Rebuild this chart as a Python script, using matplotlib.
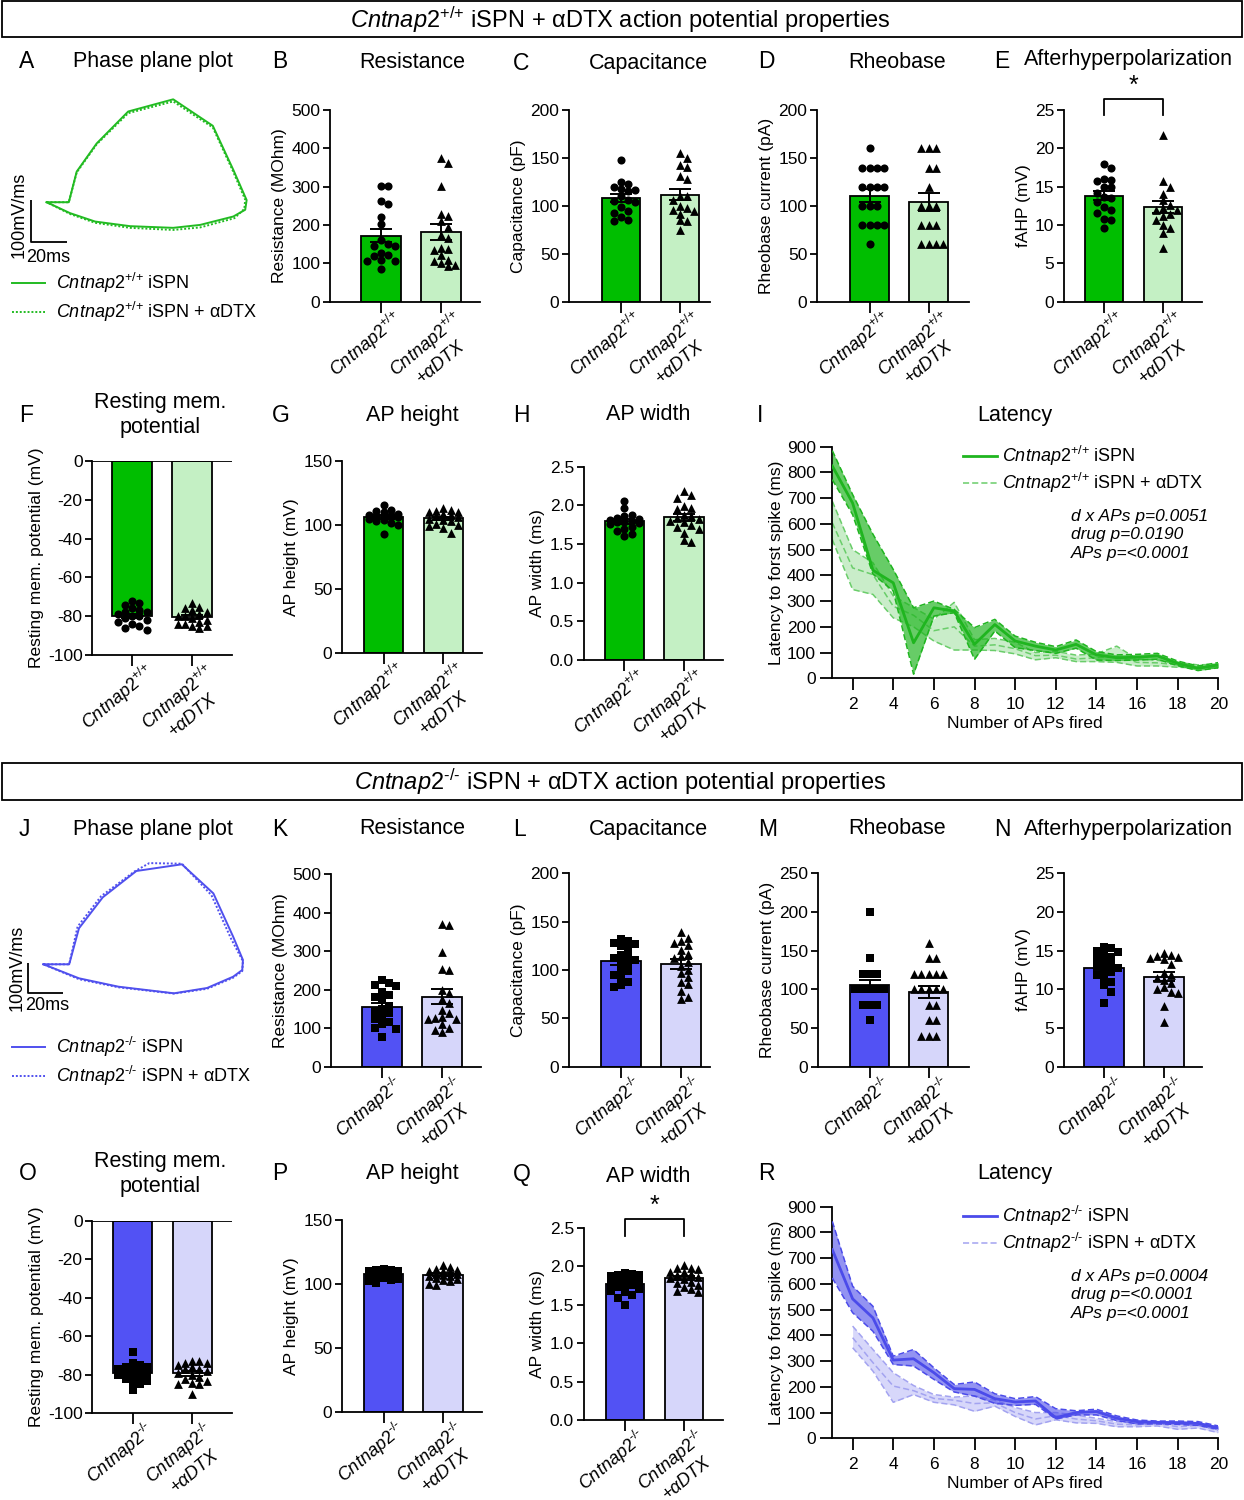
import numpy as np
import matplotlib
matplotlib.use("Agg")
import matplotlib.pyplot as plt
from matplotlib.lines import Line2D
from matplotlib.patches import Rectangle
from matplotlib.transforms import ScaledTranslation

plt.rcParams["font.family"] = ["Liberation Sans", "DejaVu Sans"]
plt.rcParams["mathtext.fontset"] = "custom"
plt.rcParams["mathtext.rm"] = "Liberation Sans"
plt.rcParams["mathtext.it"] = "Liberation Sans:italic"
plt.rcParams["mathtext.bf"] = "Liberation Sans:bold"
plt.rcParams["mathtext.sf"] = "Liberation Sans"
plt.rcParams["axes.unicode_minus"] = False

# ---------------- data ----------------
# Cntnap2 +/+  (control / + aDTX)
res_wt = [303, 303, 263, 256, 222, 203, 160, 150, 146, 145, 126, 122, 120, 108, 107, 106, 85]
res_wt_dtx = [374, 363, 303, 230, 223, 210, 196, 175, 165, 140, 138, 135, 122, 110, 105, 100, 96, 92]
cap_wt = [148, 120, 118, 125, 123, 115, 117, 105, 110, 106, 104, 99, 95, 93, 88, 85, 84]
cap_wt_dtx = [155, 150, 143, 141, 131, 128, 110, 106, 100, 110, 98, 95, 92, 96, 85, 84, 75]
rheo_wt = [160, 140, 140, 140, 140, 120, 120, 120, 120, 100, 100, 100, 80, 80, 80, 80, 60]
rheo_wt_dtx = [160, 160, 160, 140, 140, 120, 100, 100, 100, 80, 80, 80, 60, 60, 60, 60]
fahp_wt = [17.9, 17.5, 16.0, 15.9, 15.8, 15.0, 14.9, 14.2, 13.7, 13.5, 13.0, 12.4, 12.0, 11.6, 10.8, 10.7, 9.6]
fahp_wt_dtx = [21.7, 15.8, 15.0, 14.1, 13.2, 12.6, 12.2, 12.0, 11.9, 11.5, 11.2, 10.7, 10.0, 9.6, 9.0, 7.0]
rmp_wt = [-72, -73, -74, -76, -77, -78, -78, -79, -80, -80, -81, -82, -83, -84, -85, -86, -87]
rmp_wt_dtx = [-73, -75, -76, -77, -78, -79, -80, -80, -81, -82, -83, -84, -84, -85, -85, -86]
aph_wt = [116, 112, 111, 110, 109, 108, 108, 107, 107, 106, 106, 105, 104, 103, 102, 100, 93]
aph_wt_dtx = [113, 112, 111, 110, 110, 109, 108, 107, 106, 105, 104, 103, 101, 100, 99, 98, 94]
apw_wt = [2.06, 1.96, 1.88, 1.86, 1.84, 1.82, 1.81, 1.80, 1.79, 1.78, 1.77, 1.76, 1.72, 1.70, 1.67, 1.63, 1.61]
apw_wt_dtx = [2.18, 2.14, 2.10, 1.99, 1.96, 1.95, 1.88, 1.86, 1.84, 1.82, 1.80, 1.78, 1.75, 1.72, 1.70, 1.64, 1.55, 1.53]

# Cntnap2 -/-  (control / + aDTX)
res_ko = [225, 218, 213, 210, 195, 187, 180, 172, 158, 150, 145, 140, 132, 125, 115, 112, 100, 98, 78]
res_ko_dtx = [370, 368, 298, 253, 252, 200, 190, 175, 165, 148, 140, 128, 126, 125, 124, 110, 100, 95, 90]
cap_ko = [132, 130, 128, 127, 125, 122, 116, 114, 112, 110, 108, 106, 100, 99, 95, 92, 88, 85, 82]
cap_ko_dtx = [139, 133, 130, 128, 126, 121, 117, 114, 112, 108, 104, 100, 97, 93, 88, 86, 78, 72, 70]
rheo_ko = [200, 140, 120, 120, 120, 100, 100, 100, 100, 100, 100, 100, 100, 100, 80, 80, 80, 60]
rheo_ko_dtx = [160, 140, 140, 120, 120, 120, 120, 120, 100, 100, 100, 100, 100, 80, 80, 60, 60, 40, 40, 40]
fahp_ko = [15.5, 15.3, 15.0, 14.8, 14.5, 14.2, 13.9, 13.5, 13.2, 13.0, 12.8, 12.5, 12.2, 11.8, 11.5, 11.0, 10.5, 9.7, 8.2]
fahp_ko_dtx = [14.7, 14.4, 14.3, 14.2, 14.0, 13.9, 13.3, 12.1, 11.8, 11.5, 11.2, 10.8, 10.3, 10.0, 9.7, 9.5, 7.8, 5.8]
rmp_ko = [-68, -74, -75, -76, -76, -77, -77, -78, -78, -79, -80, -80, -81, -82, -83, -84, -85, -88]
rmp_ko_dtx = [-73, -73, -74, -74, -75, -76, -77, -77, -78, -79, -80, -81, -82, -83, -84, -85, -85, -90]
aph_ko = [112, 111, 111, 110, 110, 110, 109, 109, 108, 108, 107, 107, 106, 105, 104, 103, 102, 101]
aph_ko_dtx = [115, 113, 112, 111, 110, 110, 109, 108, 108, 107, 106, 106, 105, 104, 103, 102, 100, 99]
apw_ko = [1.91, 1.90, 1.89, 1.88, 1.87, 1.86, 1.84, 1.82, 1.80, 1.78, 1.76, 1.75, 1.73, 1.70, 1.68, 1.66, 1.62, 1.58, 1.50]
apw_ko_dtx = [2.01, 1.98, 1.97, 1.96, 1.93, 1.92, 1.90, 1.88, 1.86, 1.85, 1.83, 1.80, 1.78, 1.76, 1.73, 1.70, 1.68, 1.66]

# latency to first spike (mean, lower and upper SEM edge)
aps = [1, 2, 3, 4, 5, 6, 7, 8, 9, 10, 11, 12, 13, 14, 15, 16, 17, 18, 19, 20]
lat_wt = [825, 681, 420, 371, 138, 274, 261, 132, 209, 145, 125, 110, 132, 91, 80, 82, 87, 58, 39, 52]
lat_wt_lo = [772, 636, 405, 339, 16, 242, 255, 74, 184, 119, 108, 97, 117, 71, 69, 71, 74, 49, 30, 41]
lat_wt_hi = [885, 714, 560, 423, 274, 300, 268, 197, 229, 164, 140, 123, 149, 104, 91, 93, 97, 67, 48, 61]
lat_wt_dtx = [604, 429, 403, 280, 245, 185, 200, 125, 130, 115, 88, 90, 75, 80, 85, 62, 60, 52, 45, 47]
lat_wt_dtx_lo = [539, 345, 326, 235, 200, 145, 110, 110, 108, 95, 72, 80, 65, 65, 62, 48, 48, 43, 40, 40]
lat_wt_dtx_hi = [688, 500, 449, 320, 275, 230, 295, 150, 155, 140, 100, 105, 90, 95, 125, 75, 70, 62, 52, 55]

lat_ko = [733, 542, 468, 304, 309, 255, 193, 190, 154, 141, 145, 80, 100, 104, 78, 65, 62, 61, 58, 41]
lat_ko_lo = [623, 488, 416, 287, 281, 229, 180, 164, 136, 128, 132, 75, 91, 91, 69, 56, 56, 54, 50, 35]
lat_ko_hi = [843, 591, 513, 319, 345, 274, 209, 219, 173, 154, 162, 115, 107, 113, 87, 71, 67, 67, 65, 48]
aps_ko_dtx = [2, 3, 4, 5, 6, 7, 8, 9, 10, 11, 12, 13, 14, 15, 16, 17, 18, 19, 20]
lat_ko_dtx = [391, 294, 203, 185, 155, 148, 135, 138, 100, 75, 88, 75, 68, 55, 52, 57, 45, 50, 30]
lat_ko_dtx_lo = [352, 261, 140, 170, 140, 130, 105, 125, 85, 52, 72, 60, 58, 45, 45, 48, 35, 40, 22]
lat_ko_dtx_hi = [436, 345, 255, 205, 170, 160, 165, 148, 120, 100, 100, 90, 78, 65, 58, 65, 58, 58, 40]

# phase plane traces (V axis in scale-bar units, dV/dt in mV/ms)
pp_wt_v = [8.7, 21, 25.4, 36.5, 54, 79, 101, 112.4, 119.8, 119, 112.4, 94, 79, 55, 35.6, 21.7, 8.7]
pp_wt_dv = [94, 94, 167, 234, 310, 339, 276, 171, 99, 76, 60, 40, 33, 37, 48, 68, 94]
pp_wt_dtx_v = [8.7, 21, 25.4, 36.5, 54, 79, 101, 112, 119, 118.5, 113, 94, 79, 55, 35.6, 21.7, 8.7]
pp_wt_dtx_dv = [94, 94, 165, 232, 306, 334, 272, 170, 100, 78, 56, 34, 28, 33, 45, 66, 94]
pp_ko_v = [9.0, 23.7, 29.3, 42.9, 62.1, 88.1, 106.1, 117.4, 123, 122.6, 117.4, 102.5, 83.6, 51.9, 29.3, 9.0]
pp_ko_dv = [94.7, 94.7, 214.7, 318, 405.7, 428, 331, 186.7, 109, 75.7, 53.3, 15.7, -2, 20, 48, 94.7]
pp_ko_dtx_v = [9.0, 23.7, 28.5, 42, 61, 69.5, 88.1, 105, 116.2, 123, 122.6, 117.4, 102.5, 83.6, 51.9, 29.3, 9.0]
pp_ko_dtx_dv = [94.7, 94.7, 220, 322, 404, 432, 430, 325, 180, 105, 72, 50, 13, -3, 18, 45, 94.7]

WT = r"$\mathit{Cntnap2}^{\text{+/+}}$"
KO = r"$\mathit{Cntnap2}^{\text{-/-}}$"

GREEN = "#00BE00"
GREEN_L = "#C4F0C4"
BLUE = "#5252F4"
BLUE_L = "#D6D6FA"

W, H = 1244, 1500
fig = plt.figure(figsize=(W / 100, H / 100), dpi=100)


def add_ax(x0, x1, y0, y1):
    return fig.add_axes([x0 / W, 1 - y1 / H, (x1 - x0) / W, (y1 - y0) / H])


def ftext(x, y, s, **kw):
    fig.text(x / W, 1 - y / H, s, **kw)


def fline(xs, ys, **kw):
    fig.add_artist(Line2D([x / W for x in xs], [1 - y / H for y in ys], **kw))


def swarm(vals, px_x, px_y, d=7.2, max_off=19):
    # deterministic column scatter, kept inside the bar width
    cands = [0.0]
    k = 1
    while k * d <= max_off:
        cands += [k * d, -k * d]
        k += 1
    offs = np.zeros(len(vals))
    placed = []
    for i in np.argsort(-np.asarray(vals)):
        yp = vals[i] * px_y
        best, best_gap = 0.0, -1
        for off in cands:
            gap = min([np.hypot(off - a, yp - b) for a, b in placed] or [1e9])
            if gap >= 0.92 * d:
                best = off
                break
            if gap > best_gap:
                best, best_gap = off, gap
        placed.append((best, yp))
        offs[i] = best / px_x
    return offs


def style_axis(ax):
    for s in ("top", "right"):
        ax.spines[s].set_visible(False)
    for s in ("left", "bottom"):
        ax.spines[s].set_linewidth(1.3)
    ax.tick_params(width=1.3, length=7, labelsize=12.5, colors="black")


def bar_panel(box, bars, ylim, yticks, ylabel, groups, colors, markers, geno,
              fmt="{:.0f}", sig=None):
    x_axis, x_end, y_top, y_bot = box
    b0, b1 = bars
    sp = b1 - b0
    ax = add_ax(x_axis, x_end, y_top, y_bot)
    ax.set_xlim((x_axis - b0) / sp, 1 + (x_end - b1) / sp)
    ax.set_ylim(*ylim)
    px_y = (y_bot - y_top) / (ylim[1] - ylim[0])
    sizes = {"o": 34, "^": 40, "s": 30}
    for i, (vals, col, mk) in enumerate(zip(groups, colors, markers)):
        vals = np.asarray(vals, float)
        m = vals.mean()
        sem = vals.std(ddof=1) / np.sqrt(len(vals))
        ax.bar(i, m, width=0.66, color=col, edgecolor="black", linewidth=1.3, zorder=1)
        ax.scatter(i + swarm(vals, sp, px_y), vals, marker=mk, s=sizes[mk],
                   color="black", linewidths=0, zorder=3, clip_on=False)
        ax.errorbar(i, m, yerr=sem, fmt="none", ecolor="black", elinewidth=1.4,
                    capsize=8, capthick=1.4, zorder=4)
    style_axis(ax)
    ax.tick_params(axis="y", length=5, pad=2)
    ax.tick_params(axis="x", length=8)
    if ylim[1] <= 0:
        ax.axhline(0, color="black", lw=1.3, zorder=2)
    ax.set_yticks(yticks)
    ax.set_yticklabels([fmt.format(t) for t in yticks])
    ax.set_ylabel(ylabel, fontsize=12.5, labelpad=3)
    ax.set_xticks([0, 1])
    ax.set_xticklabels([geno, geno + "\n+αDTX"], rotation=40, ha="right", va="top",
                       rotation_mode="anchor", fontsize=13, style="italic",
                       multialignment="center")
    # nudge the slanted labels the way the original sits them
    shift = ScaledTranslation(0.11, 0.11, fig.dpi_scale_trans)
    for lab in ax.get_xticklabels():
        lab.set_transform(lab.get_transform() + shift)
    if sig is not None:
        lo, hi, star = sig
        ax.plot([0, 0, 1, 1], [lo, hi, hi, lo], color="black", lw=1.3, clip_on=False)
        ax.text(0.5, star, "*", ha="center", va="center", fontsize=18)
    return ax


def latency_panel(y_top, y_bot, ctrl, drug, col, col_l, alpha_d, alpha_l, geno, stats,
                  leg_y):
    ax = add_ax(832.3, 1218.3, y_top, y_bot)
    ax.set_xlim(1, 20)
    ax.set_ylim(0, 900)
    x, m, lo, hi = drug
    ax.fill_between(x, lo, hi, color=col, alpha=alpha_l, lw=0, zorder=1)
    for arr in (lo, hi, m):
        ax.plot(x, arr, ls=(0, (4, 2)), color=col_l, lw=1.1, zorder=2)
    x, m, lo, hi = ctrl
    ax.fill_between(x, lo, hi, color=col, alpha=alpha_d, lw=0, zorder=3)
    for arr in (lo, hi):
        ax.plot(x, arr, ls=(0, (4, 2)), color=col, lw=1.1, zorder=4)
    ax.plot(x, m, color=col, lw=2.0, zorder=5)
    style_axis(ax)
    ax.tick_params(length=8.5)
    ax.tick_params(axis="x", pad=5)
    ax.set_xticks(range(2, 21, 2))
    ax.set_yticks(range(0, 901, 100))
    ax.set_ylabel("Latency to forst spike (ms)", fontsize=12.5, labelpad=2)
    ax.set_xlabel("Number of APs fired", fontsize=12.5, labelpad=3)
    # legend
    fline([963, 997], [leg_y, leg_y], color=col, lw=2.0)
    fline([963, 997], [leg_y + 27, leg_y + 27], color=col_l, lw=1.1, ls=(0, (4, 2)))
    ftext(1002, leg_y, geno + " iSPN", fontsize=13, va="center")
    ftext(1002, leg_y + 27, geno + " iSPN + αDTX", fontsize=13, va="center")
    for k, s in enumerate(stats):
        ftext(1071, leg_y + 60 + 18.7 * k, s, fontsize=12.5, style="italic", va="center")


def phase_panel(box, origin, scale, traces, col, geno, leg_y, lab_pos):
    x0, x1, y0, y1 = box
    ox, oy = origin
    sx, sy = scale
    ax = add_ax(x0, x1, y0, y1)
    ax.set_xlim((x0 - ox) / sx, (x1 - ox) / sx)
    ax.set_ylim((oy - y1) / sy, (oy - y0) / sy)
    ax.axis("off")
    (v1, d1), (v2, d2) = traces
    ax.plot(v1, d1, color=col, lw=1.4)
    ax.plot(v2, d2, color=col, lw=1.4, ls=(0, (1, 1)))
    ax.plot([0, 0, 20], [100, 0, 0], color="black", lw=1.3, solid_capstyle="butt")
    (vx, vy), (hx, hy) = lab_pos
    ftext(vx, vy, "100mV/ms", rotation=90, fontsize=13, ha="center", va="center")
    ftext(hx, hy, "20ms", fontsize=13, ha="center", va="center")
    fline([12, 45], [leg_y, leg_y], color=col, lw=1.4)
    fline([12, 45], [leg_y + 29, leg_y + 29], color=col, lw=1.4, ls=(0, (1, 1)))
    ftext(56, leg_y, geno + " iSPN", fontsize=13, va="center")
    ftext(56, leg_y + 29, geno + " iSPN + αDTX", fontsize=13, va="center")


# ---------------- headers ----------------
for (ytop, ybot, g, ty) in [(1, 37, WT, 20), (763, 800, KO, 782)]:
    fig.add_artist(Rectangle((2 / W, 1 - ybot / H), 1240 / W, (ybot - ytop) / H,
                             transform=fig.transFigure, fill=False, lw=1.3, ec="black"))
    ftext(620, ty, g + " iSPN + αDTX action potential properties", fontsize=17,
          ha="center", va="center")

# ---------------- panel letters and titles ----------------
titles = [
    ("A", 19, 62, "Phase plane plot", 153, 62),
    ("B", 272, 62, "Resistance", 412, 62),
    ("C", 513, 63, "Capacitance", 648, 64),
    ("D", 758, 62, "Rheobase", 897, 62),
    ("E", 994, 61, "Afterhyperpolarization", 1128, 60),
    ("F", 19, 415, "Resting mem.\npotential", 160, 415),
    ("G", 272, 415, "AP height", 412, 415),
    ("H", 513, 415, "AP width", 648, 415),
    ("I", 757, 415, "Latency", 1015, 415),
    ("J", 19, 829, "Phase plane plot", 153, 829),
    ("K", 272, 829, "Resistance", 412, 829),
    ("L", 513, 829, "Capacitance", 648, 829),
    ("M", 758, 829, "Rheobase", 897, 829),
    ("N", 994, 829, "Afterhyperpolarization", 1128, 829),
    ("O", 19, 1173, "Resting mem.\npotential", 160, 1174),
    ("P", 272, 1173, "AP height", 412, 1173),
    ("Q", 513, 1175, "AP width", 648, 1177),
    ("R", 758, 1173, "Latency", 1015, 1173),
]
for letter, lx, ly, title, tx, ty in titles:
    ftext(lx, ly, letter, fontsize=16.5, va="center", ha="left")
    ftext(tx, ty, title, fontsize=15.5, va="center", ha="center", linespacing=1.2)

# ---------------- phase plots ----------------
phase_panel((5, 262, 85, 262), (31, 241.7), (1.8, 0.42),
            [(pp_wt_v, pp_wt_dv), (pp_wt_dtx_v, pp_wt_dtx_dv)], "#22BB22", WT, 283,
            ((19, 215), (48, 257)))
phase_panel((5, 262, 850, 1010), (27.7, 992.7), (1.75, 0.3),
            [(pp_ko_v, pp_ko_dv), (pp_ko_dtx_v, pp_ko_dtx_dv)], "#5050EE", KO, 1047,
            ((17, 968), (47, 1006)))

# ---------------- bar panels ----------------
gcol = [GREEN, GREEN_L]
bcol = [BLUE, BLUE_L]
gmk = ["o", "^"]
bmk = ["s", "^"]

bar_panel((330, 480, 110, 301.7), (381, 441), (0, 500), range(0, 501, 100),
          "Resistance (MOhm)", [res_wt, res_wt_dtx], gcol, gmk, WT)
bar_panel((569, 709.5, 110, 301.7), (621, 680), (0, 200), range(0, 201, 50),
          "Capacitance (pF)", [cap_wt, cap_wt_dtx], gcol, gmk, WT)
bar_panel((817, 969, 110, 301.7), (869.5, 928.6), (0, 200), range(0, 201, 50),
          "Rheobase current (pA)", [rheo_wt, rheo_wt_dtx], gcol, gmk, WT)
bar_panel((1064, 1202, 110, 301.7), (1104, 1163), (0, 25), range(0, 26, 5),
          "fAHP (mV)", [fahp_wt, fahp_wt_dtx], gcol, gmk, WT, sig=(24.3, 26.4, 28.2))
bar_panel((92.3, 232, 461, 655), (132.3, 192.3), (-100, 0), range(-100, 1, 20),
          "Resting mem. potential (mV)", [rmp_wt, rmp_wt_dtx], gcol, gmk, WT)
bar_panel((342, 482.3, 461, 653.3), (383.7, 443.3), (0, 150), range(0, 151, 50),
          "AP height (mV)", [aph_wt, aph_wt_dtx], gcol, gmk, WT)
bar_panel((583.7, 723.4, 466.7, 660), (624.4, 684.2), (0, 2.5), np.arange(0, 2.51, 0.5),
          "AP width (ms)", [apw_wt, apw_wt_dtx], gcol, gmk, WT, fmt="{:.1f}")

bar_panel((331, 481, 874, 1066.7), (382, 442), (0, 500), range(0, 501, 100),
          "Resistance (MOhm)", [res_ko, res_ko_dtx], bcol, bmk, KO)
bar_panel((569, 709.5, 873.3, 1066.7), (621, 681), (0, 200), range(0, 201, 50),
          "Capacitance (pF)", [cap_ko, cap_ko_dtx], bcol, bmk, KO)
bar_panel((818, 969, 873.3, 1066.7), (869.8, 928.6), (0, 250), range(0, 251, 50),
          "Rheobase current (pA)", [rheo_ko, rheo_ko_dtx], bcol, bmk, KO)
bar_panel((1064, 1202, 873.3, 1066.7), (1104, 1164), (0, 25), range(0, 26, 5),
          "fAHP (mV)", [fahp_ko, fahp_ko_dtx], bcol, bmk, KO)
bar_panel((92.3, 232, 1221, 1413.3), (132.8, 192.3), (-100, 0), range(-100, 1, 20),
          "Resting mem. potential (mV)", [rmp_ko, rmp_ko_dtx], bcol, bmk, KO)
bar_panel((342, 482, 1220, 1411.7), (383.7, 443), (0, 150), range(0, 151, 50),
          "AP height (mV)", [aph_ko, aph_ko_dtx], bcol, bmk, KO)
bar_panel((583.7, 723, 1227.7, 1420), (625, 684), (0, 2.5), np.arange(0, 2.51, 0.5),
          "AP width (ms)", [apw_ko, apw_ko_dtx], bcol, bmk, KO, fmt="{:.1f}",
          sig=(2.39, 2.61, 2.78))

# ---------------- latency ----------------
latency_panel(446.7, 678.3,
              (aps, lat_wt, lat_wt_lo, lat_wt_hi),
              (aps, lat_wt_dtx, lat_wt_dtx_lo, lat_wt_dtx_hi),
              "#1FB51F", "#6ACD6A", 0.68, 0.24, WT,
              ["d x APs p=0.0051", "drug p=0.0190", "APs p=<0.0001"], 456)
latency_panel(1206.7, 1438.3,
              (aps, lat_ko, lat_ko_lo, lat_ko_hi),
              (aps_ko_dtx, lat_ko_dtx, lat_ko_dtx_lo, lat_ko_dtx_hi),
              "#4B4BEA", "#A3A3F0", 0.6, 0.22, KO,
              ["d x APs p=0.0004", "drug p=<0.0001", "APs p=<0.0001"], 1216)

fig.savefig("out.png", dpi=100)
